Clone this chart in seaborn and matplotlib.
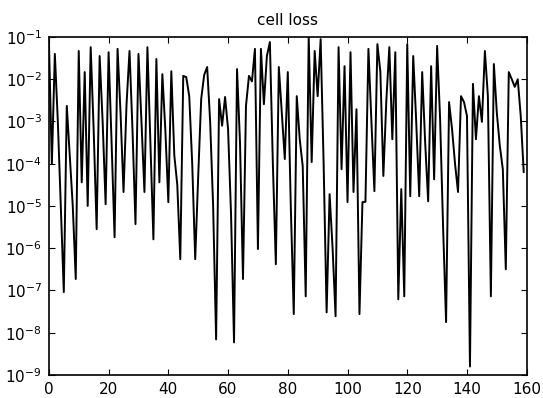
import numpy as np
import matplotlib
matplotlib.use("Agg")
import matplotlib.pyplot as plt
import seaborn as sns

# cell loss per sample, stored as log10 exponents
log10_loss = [
    -1.05, -4.0, -1.40, -3.0, -5.0, -7.04, -2.63, -3.8, -5.0, -6.73,   # 0-9
    -1.33, -4.44, -1.83, -5.0, -1.24, -3.2, -5.55, -1.45, -3.0, -4.96,  # 10-19
    -1.36, -3.5, -5.74, -1.28, -2.8, -4.67, -2.6, -1.33, -3.2, -5.43,   # 20-29
    -1.40, -3.0, -4.67, -1.24, -3.5, -5.79, -1.52, -4.44, -1.88, -3.2,  # 30-39
    -4.91, -1.81, -3.8, -4.5, -6.26, -1.92, -1.95, -2.4, -4.0, -6.26,   # 40-49
    -4.3, -2.47, -1.9, -1.71, -3.0, -5.0, -8.16, -2.47, -3.1, -2.42,    # 50-59
    -3.18, -5.2, -8.23, -1.76, -3.5, -6.73, -2.63, -1.92, -2.05, -1.28, # 60-69
    -6.02, -1.28, -2.59, -1.45, -1.12, -4.0, -6.38, -1.71, -2.8, -3.89, # 70-79
    -1.83, -5.0, -7.56, -2.4, -3.42, -4.06, -7.14, -0.98, -3.96, -1.33, # 80-89
    -2.4, -1.05, -4.0, -7.52, -4.72, -6.0, -7.61, -1.24, -4.13, -1.69,  # 90-99
    -4.91, -1.36, -4.67, -2.71, -7.56, -4.91, -4.9, -1.28, -3.0, -4.65, # 100-109
    -1.17, -1.83, -4.29, -2.5, -1.24, -3.42, -1.36, -7.21, -4.6, -7.14, # 110-119
    -1.17, -4.77, -1.45, -3.0, -4.77, -1.83, -3.5, -4.89, -1.69, -4.37, # 120-129
    -1.21, -2.94, -5.5, -7.75, -2.54, -3.18, -4.0, -4.67, -2.4, -2.54,  # 130-139
    -2.87, -8.8, -2.11, -3.42, -2.4, -3.01, -1.33, -2.4, -7.14, -1.64,  # 140-149
    -2.8, -3.58, -4.13, -6.5, -1.83, -2.0, -2.18, -2.0, -2.87, -4.2,    # 150-159
]
sample = list(range(len(log10_loss)))

x_ticks = [0, 20, 40, 60, 80, 100, 120, 140, 160]
y_ticks = [1e-9, 1e-8, 1e-7, 1e-6, 1e-5, 1e-4, 1e-3, 1e-2, 1e-1]

sns.set_style("ticks")
plt.rcParams["font.family"] = ["DejaVu Sans"]
plt.rcParams["text.color"] = "black"

fig = plt.figure(figsize=(5.43, 3.98), dpi=100)
ax = fig.add_axes([0.090, 0.058, 0.880, 0.849])

loss = 10.0 ** np.array(log10_loss)
sns.lineplot(x=sample, y=loss, ax=ax, color="black", linewidth=1.4)

ax.set_yscale("log")
ax.set_xlim(0, 160)
ax.set_ylim(1e-9, 1e-1)
ax.set_xticks(x_ticks)
ax.set_yticks(y_ticks)
ax.minorticks_off()
ax.tick_params(direction="in", top=True, right=True, length=4,
               labelsize=11, colors="black", pad=5)
for side in ["top", "right", "bottom", "left"]:
    ax.spines[side].set_visible(True)
    ax.spines[side].set_color("black")
    ax.spines[side].set_linewidth(1.2)

ax.set_xlabel("")
ax.set_ylabel("")
ax.set_title("cell loss", fontsize=11, pad=9, color="black")

fig.savefig("out.png", dpi=100)
plt.close(fig)
